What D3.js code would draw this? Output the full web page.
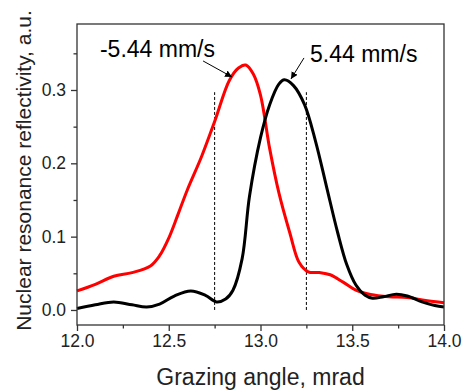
<!DOCTYPE html>
<html>
<head>
<meta charset="utf-8">
<script src="https://cdn.jsdelivr.net/npm/d3@7"></script>
<style>
  body { margin: 0; background: #fff; }
  svg { display: block; font-family: "Liberation Sans", Arial, sans-serif; }
</style>
</head>
<body>
<div id="chart"></div>
<script>
// black curve: +5.44 mm/s
let angleBlack = [12.0, 12.1, 12.2, 12.3, 12.38, 12.45, 12.53, 12.62, 12.7, 12.76, 12.81, 12.85, 12.9, 12.94, 13.0, 13.05, 13.1, 13.13, 13.18, 13.24, 13.3, 13.36, 13.42, 13.47, 13.52, 13.57, 13.61, 13.67, 13.74, 13.8, 13.88, 13.95, 14.0];
let reflBlack = [0.002, 0.007, 0.011, 0.007, 0.004, 0.008, 0.019, 0.026, 0.020, 0.011, 0.015, 0.027, 0.070, 0.155, 0.235, 0.280, 0.308, 0.314, 0.306, 0.280, 0.230, 0.168, 0.106, 0.062, 0.034, 0.020, 0.016, 0.018, 0.0215, 0.019, 0.011, 0.006, 0.004];

// red curve: -5.44 mm/s
let angleRed = [12.0, 12.1, 12.2, 12.3, 12.4, 12.45, 12.5, 12.55, 12.6, 12.68, 12.75, 12.83, 12.88, 12.92, 12.96, 13.0, 13.05, 13.1, 13.16, 13.21, 13.26, 13.32, 13.38, 13.45, 13.52, 13.6, 13.7, 13.8, 13.9, 14.0];
let reflRed = [0.026, 0.035, 0.046, 0.051, 0.060, 0.074, 0.098, 0.130, 0.163, 0.210, 0.257, 0.313, 0.330, 0.334, 0.322, 0.293, 0.220, 0.160, 0.105, 0.065, 0.052, 0.051, 0.048, 0.038, 0.027, 0.021, 0.018, 0.017, 0.013, 0.010];

// axis ticks
let xTicks = [12.0, 12.5, 13.0, 13.5, 14.0];
let xMinor = [12.25, 12.75, 13.25, 13.75];
let yTicks = [0.0, 0.1, 0.2, 0.3];
let yMinor = [0.05, 0.15, 0.25, 0.35];

// dashed marker lines
let markerX = [12.75, 13.25];
let markerY = [0.0, 0.297];

// annotations: label, text position, arrow start, arrow end (data coords)
let noteLabels = ["-5.44 mm/s", "5.44 mm/s"];
let noteText = [[12.125, 0.345], [13.27, 0.338]];
let noteFrom = [[12.687, 0.3396], [13.237, 0.3437]];
let noteTo = [[12.845, 0.3177], [13.166, 0.315]];

let W = 468, H = 392;
let margin = {top: 24, right: 24, bottom: 67, left: 77};
let width = W - margin.left - margin.right;
let height = H - margin.top - margin.bottom;

let x = d3.scaleLinear().domain([12.0, 14.0]).range([0, width]);
let y = d3.scaleLinear().domain([-0.0205, 0.39]).range([height, 0]);

let svg = d3.select("#chart").append("svg")
  .attr("width", W).attr("height", H)
  .append("g")
  .attr("transform", "translate(" + margin.left + "," + margin.top + ")");

// arrow head for the labels
svg.append("defs").append("marker")
  .attr("id", "head")
  .attr("viewBox", "0 0 10 10")
  .attr("refX", 10).attr("refY", 5)
  .attr("markerWidth", 7).attr("markerHeight", 7)
  .attr("markerUnits", "userSpaceOnUse")
  .attr("orient", "auto")
  .append("path").attr("d", "M0,0L10,5L0,10z").attr("fill", "#000");

// dashed verticals
svg.selectAll(".marker").data(markerX).enter().append("line")
  .attr("x1", d => x(d)).attr("x2", d => x(d))
  .attr("y1", y(markerY[0])).attr("y2", y(markerY[1]))
  .attr("stroke", "#000").attr("stroke-width", 1)
  .attr("stroke-dasharray", "3,2");

// curves
let line = d3.line()
  .x(d => x(d[0])).y(d => y(d[1]))
  .curve(d3.curveCatmullRom.alpha(0.5));

svg.append("path")
  .datum(d3.zip(angleRed, reflRed))
  .attr("fill", "none").attr("stroke", "#ff0000").attr("stroke-width", 3)
  .attr("d", line);

svg.append("path")
  .datum(d3.zip(angleBlack, reflBlack))
  .attr("fill", "none").attr("stroke", "#000").attr("stroke-width", 3)
  .attr("d", line);

// annotations
noteLabels.forEach(function(label, i) {
  svg.append("line")
    .attr("x1", x(noteFrom[i][0])).attr("y1", y(noteFrom[i][1]))
    .attr("x2", x(noteTo[i][0])).attr("y2", y(noteTo[i][1]))
    .attr("stroke", "#000").attr("stroke-width", 1)
    .attr("marker-end", "url(#head)");
  svg.append("text")
    .attr("x", x(noteText[i][0])).attr("y", y(noteText[i][1]))
    .attr("font-size", 23).attr("fill", "#000")
    .text(label);
});

// frame
svg.append("rect")
  .attr("width", width).attr("height", height)
  .attr("fill", "none").attr("stroke", "#333").attr("stroke-width", 1.3);

// axes
let xAxis = svg.append("g")
  .attr("transform", "translate(0," + height + ")")
  .call(d3.axisBottom(x).tickValues(xTicks).tickSize(6).tickPadding(4).tickFormat(d3.format(".1f")));
let xAxisMinor = svg.append("g")
  .attr("transform", "translate(0," + height + ")")
  .call(d3.axisBottom(x).tickValues(xMinor).tickSize(3.5).tickFormat(""));
let yAxis = svg.append("g")
  .call(d3.axisLeft(y).tickValues(yTicks).tickSize(6).tickPadding(5).tickFormat(d3.format(".1f")));
let yAxisMinor = svg.append("g")
  .call(d3.axisLeft(y).tickValues(yMinor).tickSize(3.5).tickFormat(""));

[xAxis, xAxisMinor, yAxis, yAxisMinor].forEach(function(g) {
  g.select(".domain").remove();
  g.selectAll("line").attr("stroke", "#333").attr("stroke-width", 1.3);
  g.selectAll("text").attr("font-size", 17.5).attr("fill", "#222")
    .attr("font-family", "'Liberation Sans', Arial, sans-serif");
});

// axis titles
svg.append("text")
  .attr("x", width / 2).attr("y", height + 60)
  .attr("text-anchor", "middle").attr("font-size", 23).attr("fill", "#222")
  .text("Grazing angle, mrad");
svg.append("text")
  .attr("transform", "rotate(-90)")
  .attr("x", -height / 2 + 4).attr("y", -46)
  .attr("text-anchor", "middle").attr("font-size", 21).attr("fill", "#222")
  .text("Nuclear resonance reflectivity, a.u.");
</script>
</body>
</html>
